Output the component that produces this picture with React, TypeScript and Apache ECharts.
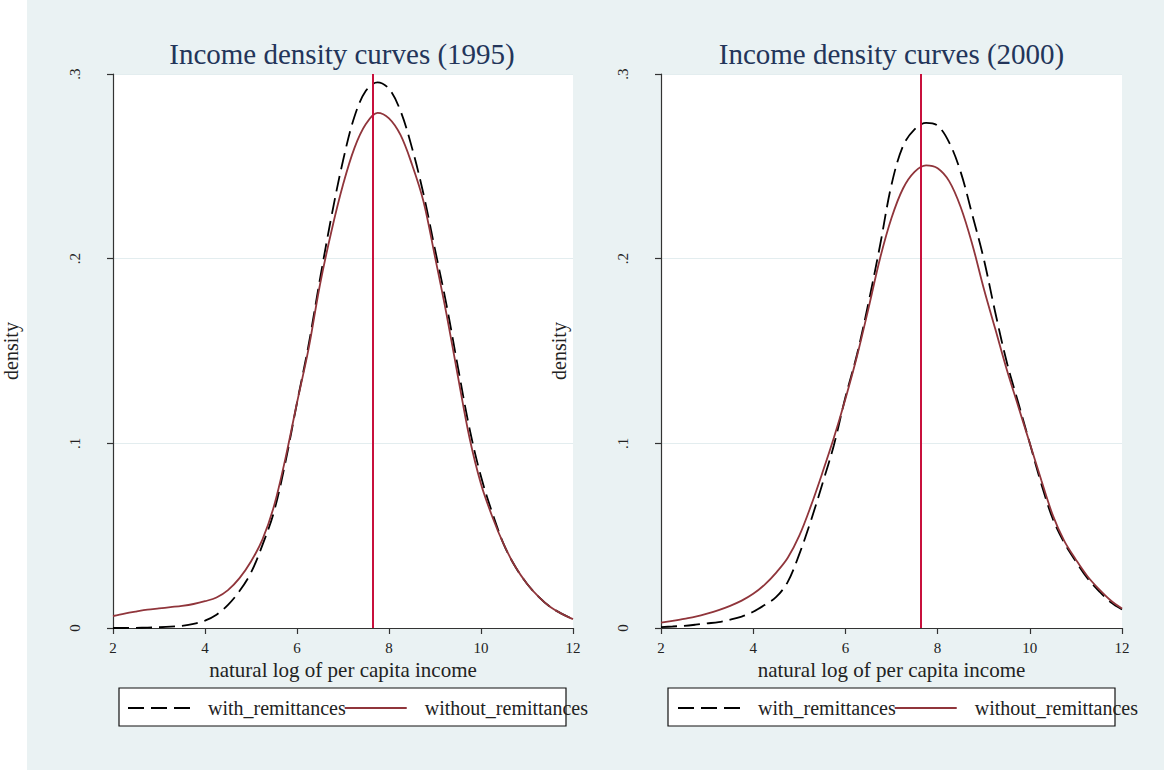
import React, { useEffect, useRef } from "react";
import * as echarts from "echarts";

const incomeGrid = [
  2, 2.25, 2.5, 2.75, 3, 3.25, 3.5, 3.75, 4, 4.25, 4.5, 4.75, 5, 5.25, 5.5, 5.75,
  6, 6.25, 6.5, 6.75, 7, 7.25, 7.5, 7.75, 8, 8.25, 8.5, 8.75, 9, 9.25, 9.5, 9.75,
  10, 10.25, 10.5, 10.75, 11, 11.25, 11.5, 11.75, 12,
];

const with1995 = [
  0, 0, 0.0001, 0.0002, 0.0004, 0.0007, 0.0012, 0.0022, 0.004, 0.0072, 0.0125, 0.02,
  0.03, 0.045, 0.063, 0.09, 0.122, 0.153, 0.189, 0.223, 0.253, 0.277, 0.291, 0.2955,
  0.292, 0.28, 0.26, 0.235, 0.205, 0.175, 0.141, 0.108, 0.082, 0.062, 0.045, 0.033,
  0.024, 0.017, 0.0115, 0.0078, 0.0048,
];

const without1995 = [
  0.0065, 0.0078, 0.0089, 0.0099, 0.0106, 0.0113, 0.012, 0.013, 0.0145, 0.0165, 0.0205,
  0.027, 0.036, 0.048, 0.066, 0.092, 0.122, 0.151, 0.186, 0.215, 0.24, 0.26, 0.273,
  0.279, 0.276, 0.267, 0.251, 0.231, 0.201, 0.17, 0.136, 0.103, 0.078, 0.06, 0.045,
  0.033, 0.024, 0.017, 0.0115, 0.0078, 0.0048,
];

const with2000 = [
  0.0005, 0.0008, 0.0012, 0.0018, 0.0025, 0.0032, 0.0045, 0.0062, 0.0088, 0.0125, 0.0168,
  0.025, 0.04, 0.058, 0.078, 0.099, 0.125, 0.148, 0.176, 0.207, 0.24, 0.261, 0.27,
  0.2735, 0.272, 0.263, 0.247, 0.224, 0.2, 0.171, 0.144, 0.122, 0.1, 0.078, 0.059,
  0.046, 0.036, 0.027, 0.02, 0.014, 0.01,
];

const without2000 = [
  0.0029, 0.0038, 0.005, 0.0062, 0.0078, 0.0097, 0.012, 0.0148, 0.0185, 0.0235, 0.03,
  0.038, 0.05, 0.066, 0.084, 0.103, 0.124, 0.147, 0.173, 0.2, 0.222, 0.238, 0.247,
  0.2505, 0.249, 0.242, 0.228, 0.208, 0.184, 0.162, 0.14, 0.12, 0.1, 0.08, 0.061,
  0.047, 0.037, 0.028, 0.021, 0.015, 0.0105,
];

const panelTitles = ["Income density curves (1995)", "Income density curves (2000)"];
const seriesNames = ["with_remittances", "without_remittances"];
const yTickLabels = ["0", ".1", ".2", ".3"];
const meanIncome = [7.65, 7.64];
const xAxisTitle = "natural log of per capita income";
const yAxisTitle = "density";

const FONT = "'Liberation Serif', 'Times New Roman', serif";
const BG = "#eaf2f3";
const MAROON = "#90353b";
const LINE_RED = "#c8103c";
const TEXT = "#222222";

const pairs = (ys: number[]) => incomeGrid.map((x, i) => [x, ys[i]]);

export default function App() {
  const ref = useRef<HTMLDivElement>(null);

  useEffect(() => {
    if (!ref.current) return;
    const chart = echarts.init(ref.current, undefined, { renderer: "svg" });

    const panels = [
      { left: 111, width: 462, withD: with1995, withoutD: without1995, mean: meanIncome[0], legendLeft: 127, boxLeft: 119 },
      { left: 661, width: 461, withD: with2000, withoutD: without2000, mean: meanIncome[1], legendLeft: 677, boxLeft: 668 },
    ];

    const grids = panels.map((p) => ({
      left: p.left,
      top: 74,
      width: p.width,
      height: 554,
      show: true,
      backgroundColor: "#ffffff",
      borderWidth: 0,
    }));

    const xAxes = panels.map((_, i) => ({
      type: "value",
      gridIndex: i,
      min: 2,
      max: 12,
      interval: 2,
      name: xAxisTitle,
      nameLocation: "middle",
      nameGap: 26,
      nameTextStyle: { fontFamily: FONT, fontSize: 21, color: TEXT },
      axisLine: { show: true, onZero: false, lineStyle: { color: "#333333", width: 1.2 } },
      axisTick: { show: true, inside: false, length: 6, lineStyle: { color: "#333333", width: 1.2 } },
      axisLabel: { fontFamily: FONT, fontSize: 15, color: TEXT, margin: 12 },
      splitLine: { show: false },
    }));

    const yAxes = panels.map((_, i) => ({
      type: "value",
      gridIndex: i,
      min: 0,
      max: 0.3,
      interval: 0.1,
      name: yAxisTitle,
      nameLocation: "middle",
      nameGap: 92,
      nameRotate: 90,
      nameTextStyle: { fontFamily: FONT, fontSize: 20, color: TEXT },
      axisLine: { show: true, lineStyle: { color: "#333333", width: 1.2 } },
      axisTick: { show: true, inside: false, length: 6, lineStyle: { color: "#333333", width: 1.2 } },
      axisLabel: {
        fontFamily: FONT,
        fontSize: 15,
        color: TEXT,
        rotate: 90,
        margin: 31,
        formatter: (v: number) => yTickLabels[Math.round(v * 10)] ?? "",
      },
      splitLine: { show: true, lineStyle: { color: "#e3edef", width: 1.2 } },
    }));

    const series: any[] = [];
    panels.forEach((p, i) => {
      series.push({
        name: seriesNames[0],
        type: "line",
        xAxisIndex: i,
        yAxisIndex: i,
        data: pairs(p.withD),
        symbol: "none",
        showSymbol: false,
        smooth: 0.35,
        lineStyle: { color: "#000000", width: 1.8, type: [16, 7] },
        itemStyle: { color: "#000000" },
        z: 3,
      });
      series.push({
        name: seriesNames[1],
        type: "line",
        xAxisIndex: i,
        yAxisIndex: i,
        data: pairs(p.withoutD),
        symbol: "none",
        showSymbol: false,
        smooth: 0.35,
        lineStyle: { color: MAROON, width: 1.8, type: "solid" },
        itemStyle: { color: MAROON },
        z: 4,
        markLine: {
          silent: true,
          symbol: ["none", "none"],
          label: { show: false },
          lineStyle: { color: LINE_RED, width: 2, type: "solid" },
          data: [{ xAxis: p.mean }],
        },
      });
    });

    const legends = panels.map((p) => ({
      left: p.legendLeft,
      top: 698,
      orient: "horizontal",
      padding: 0,
      itemWidth: 62,
      itemHeight: 14,
      itemGap: -2,
      selectedMode: false,
      data: seriesNames,
      itemStyle: { opacity: 0 },
      textStyle: { fontFamily: FONT, fontSize: 20, color: TEXT, padding: [0, 0, 0, 13] },
    }));

    const titles = panels.map((p, i) => ({
      text: panelTitles[i],
      left: p.left + p.width / 2,
      top: 39,
      textAlign: "center",
      padding: 0,
      textStyle: { fontFamily: FONT, fontSize: 29, fontWeight: "normal", color: "#23355a" },
    }));

    const graphics: any[] = [
      { type: "rect", left: 0, top: 0, shape: { x: 0, y: 0, width: 27, height: 770 }, style: { fill: "#ffffff" }, z: -1, silent: true },
      ...panels.map((p) => ({
        type: "rect",
        shape: { x: p.boxLeft, y: 688, width: 447, height: 38 },
        style: { fill: "#ffffff", stroke: "#111111", lineWidth: 1.2 },
        z: 1,
        silent: true,
      })),
    ];

    chart.setOption({
      animation: false,
      backgroundColor: BG,
      title: titles,
      grid: grids,
      xAxis: xAxes,
      yAxis: yAxes,
      legend: legends,
      series,
      graphic: graphics,
    });

    return () => chart.dispose();
  }, []);

  return (
    <div
      ref={ref}
      style={{ position: "fixed", left: 0, top: 0, width: 1164, height: 770 }}
    />
  );
}
